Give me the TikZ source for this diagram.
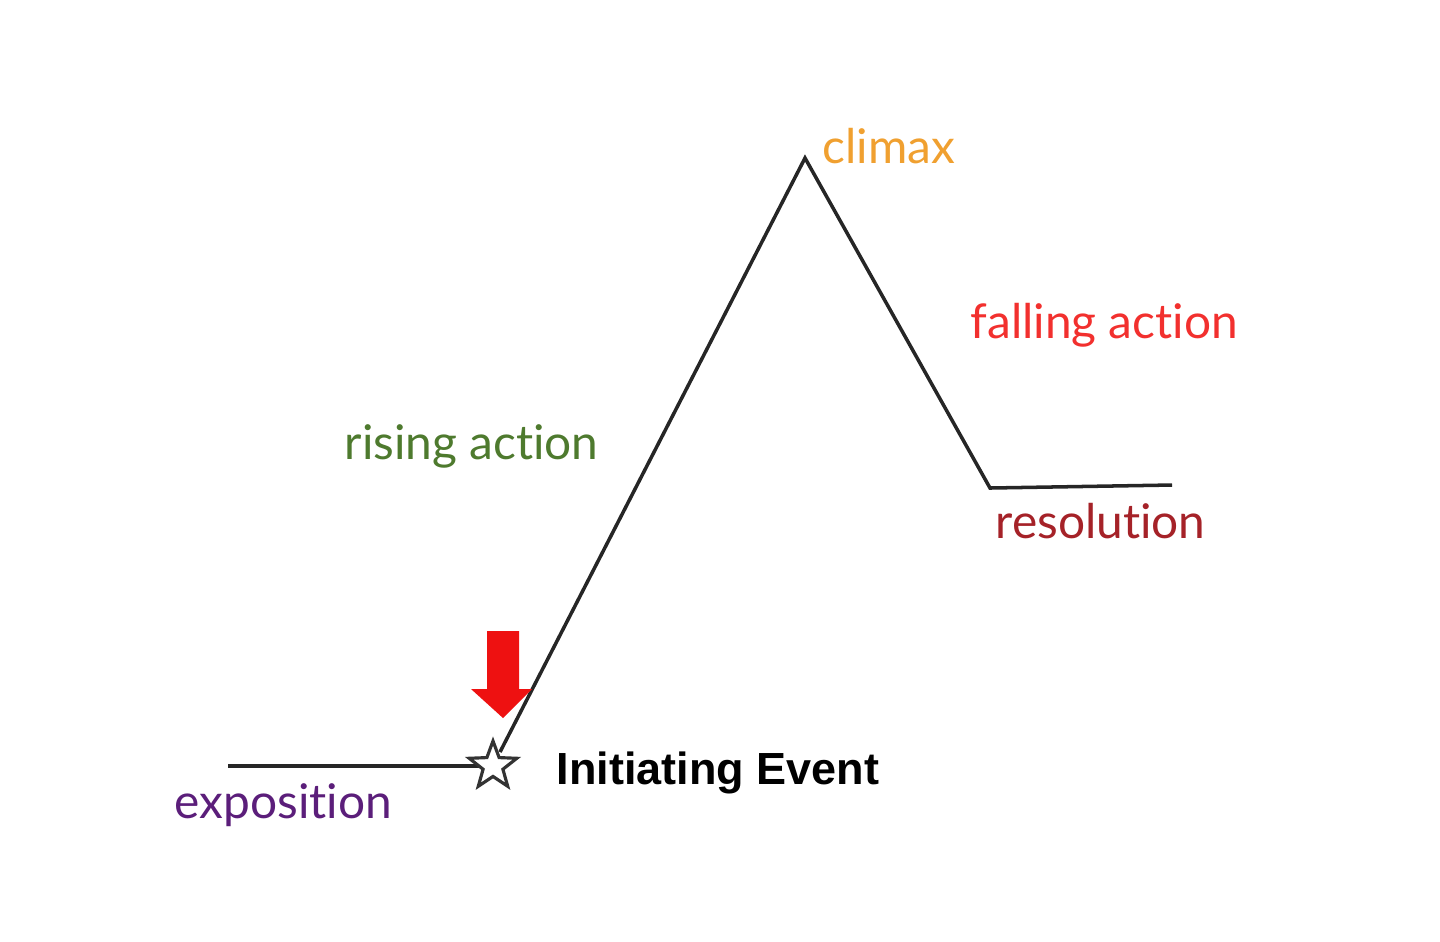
\documentclass[tikz,border=0pt]{standalone}
\usepackage{fontspec}
\setmainfont{Lato}[Ligatures={NoCommon,NoRequired,NoContextual}]
\newfontfamily\arialbold[BoldFont={Liberation Sans Bold}]{Liberation Sans}
\usetikzlibrary{shapes.geometric}
\definecolor{cclimax}{HTML}{F0A030}
\definecolor{cfall}{HTML}{F2302E}
\definecolor{crise}{HTML}{4E7A2E}
\definecolor{cres}{HTML}{A52228}
\definecolor{cexpo}{HTML}{5B1E7A}
\definecolor{carrow}{HTML}{EE1111}
\tikzset{
  plot/.style={line width=1pt, black!85},
  lbl/.style={anchor=base west, inner sep=0pt, font=\fontsize{13.6}{16}\selectfont},
}
\begin{document}
\begin{tikzpicture}[x=0.01cm,y=-0.01cm]
\useasboundingbox (0,0) rectangle (1440,941);
\coordinate (expo0) at (228,766);
\coordinate (peak) at (805,158);
\coordinate (valley) at (990,488);
\coordinate (res1) at (1172,485);
\coordinate (rise0) at (500,752);
\draw[plot] (expo0) -- (480,766);
\draw[plot, line join=miter] (rise0) -- (peak) -- (valley) -- (res1);
\node[star, star points=5, star point ratio=2.4, draw=black!80, fill=white, line width=0.9pt, inner sep=0pt, minimum size=0.5cm] (star) at (493,766) {};
\fill[carrow] (487,631) -- (519,631) -- (519,689) -- (532,689) -- (503,718) -- (471,689) -- (487,689) -- cycle;
\node[lbl, text=cclimax] (climax) at (822,163) {climax};
\node[lbl, text=cfall] (falling) at (970,338) {falling action};
\node[lbl, text=crise] (rising) at (344,459) {rising action};
\node[lbl, text=cres] (resolution) at (995,538) {resolution};
\node[lbl, text=cexpo] (exposition) at (174,818) {exposition};
\node[anchor=base west, inner sep=0pt, font=\arialbold\bfseries\fontsize{12.8}{15}\selectfont] (init) at (556,784) {Initiating Event};
\end{tikzpicture}
\end{document}
